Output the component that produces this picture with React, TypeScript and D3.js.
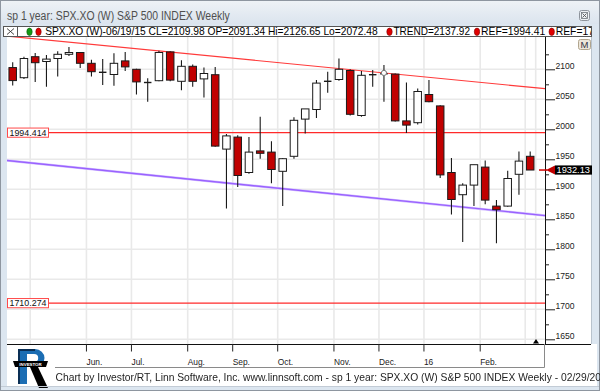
import * as d3 from 'd3';

// weekly bars, dated by the (nominal) Friday of the week
const dates = [
  '04/17/15', '04/24/15', '05/01/15', '05/08/15', '05/15/15', '05/22/15', '05/29/15',
  '06/05/15', '06/12/15', '06/19/15', '06/26/15', '07/03/15', '07/10/15', '07/17/15',
  '07/24/15', '07/31/15', '08/07/15', '08/14/15', '08/21/15', '08/28/15', '09/04/15',
  '09/11/15', '09/18/15', '09/25/15', '10/02/15', '10/09/15', '10/16/15', '10/23/15',
  '10/30/15', '11/06/15', '11/13/15', '11/20/15', '11/27/15', '12/04/15', '12/11/15',
  '12/18/15', '12/25/15', '01/01/16', '01/08/16', '01/15/16', '01/22/16', '01/29/16',
  '02/05/16', '02/12/16', '02/19/16', '02/26/16', '03/04/16',
];

const opens = [
  2102.9, 2086, 2121, 2113, 2118, 2125, 2128, 2110, 2094, 2091.34, 2114, 2100, 2076, 2081,
  2129, 2080, 2105, 2084, 2091, 1967, 1987, 1928, 1964, 1962, 1930, 1955, 2017, 2033,
  2078, 2083, 2098, 2023, 2090, 2092, 2092, 2014, 2011, 2058, 2039, 1928, 1891, 1907,
  1937, 1872, 1872, 1925, 1955,
];
const highs = [
  2111.9, 2121, 2127, 2124, 2130, 2137, 2129, 2116, 2117, 2126.65, 2129, 2101, 2085, 2131,
  2130, 2115, 2108, 2103, 2104, 1992, 1990, 1987, 2021, 1980, 1952, 2020, 2034, 2082,
  2096, 2118, 2100, 2097, 2099, 2107, 2093, 2078, 2068, 2082, 2040, 1952, 1910, 1941,
  1948, 1882, 1931, 1963, 1963,
];
const lows = [
  2073, 2084, 2079, 2071, 2088, 2122, 2102, 2088, 2074, 2072.48, 2097, 2058, 2046, 2080,
  2080, 2065, 2071, 2053, 1971, 1868, 1904, 1926, 1951, 1910, 1872, 1951, 1993, 2019,
  2061, 2081, 2023, 2021, 2071, 2046, 2013, 1994, 2008, 2045, 1919, 1858, 1812, 1872,
  1875, 1810, 1871, 1891, 1932,
];
const closes = [
  2081.2, 2118, 2111, 2117, 2125, 2128, 2110, 2096, 2095, 2109.98, 2104, 2079, 2078, 2128,
  2082, 2105, 2080, 2093, 1972, 1989, 1923, 1962, 1960, 1933, 1951, 2015, 2034, 2077,
  2080, 2100, 2025, 2090, 2091, 2092.5, 2014, 2007, 2063, 2046, 1924, 1883, 1907, 1941,
  1882, 1866, 1918, 1947, 1932.13,
];

const monthLabels: Record<string, string> = {
  '06': 'Jun.', '07': 'Jul.', '08': 'Aug.', '09': 'Sep.', '10': 'Oct.',
  '11': 'Nov.', '12': 'Dec.', '01': '16', '02': 'Feb.',
};

const yTicks = [1650, 1700, 1750, 1800, 1850, 1900, 1950, 2000, 2050, 2100];
const yMinorTicks = [1675, 1725, 1775, 1825, 1875, 1925, 1975, 2025, 2075, 2125];

const refLevels = [1994.414, 1710.274];
const trendTop = [{ i: 0, v: 2154.4 }, { i: 46, v: 2070.1 }];
const trendLow = [{ i: 0, v: 1947.0 }, { i: 46, v: 1858.8 }];
const anchorBar = 33; // handle drawn on the upper trend line

const lastPrice = 1932.13;

const ui = '"Liberation Sans", Arial, sans-serif';

export default function App() {
  const plot = { left: 7, right: 545, top: 37, bottom: 344 };

  const x = d3.scaleLinear().domain([0, dates.length - 1]).range([12.7, 530.2]);
  const y = d3.scaleLinear().domain([1650, 2100]).range([339.3, 69.3]);

  // month boundaries: first bar of every month
  const boundaries = dates
    .map((d, i) => ({ i, m: d.slice(0, 2) }))
    .filter((d, i, arr) => i > 0 && d.m !== arr[i - 1].m);

  // extend a 2-point line to the plot edges
  const lineAcross = (pts: { i: number; v: number }[]) => {
    const slope = (pts[1].v - pts[0].v) / (pts[1].i - pts[0].i);
    const at = (i: number) => pts[0].v + (i - pts[0].i) * slope;
    const i0 = x.invert(plot.left);
    const i1 = x.invert(plot.right);
    return { x1: plot.left, y1: y(at(i0)), x2: plot.right, y2: y(at(i1)), at };
  };
  const top = lineAcross(trendTop);
  const low = lineAcross(trendLow);

  const bodyW = 7.5;

  return (
    <div style={{ position: 'fixed', left: 0, top: 0 }}>
      <svg width={600} height={391} style={{ display: 'block' }}>
        <defs>
          <clipPath id="plotClip">
            <rect x={plot.left} y={plot.top} width={plot.right - plot.left} height={plot.bottom - plot.top} />
          </clipPath>
          <clipPath id="footClip">
            <rect x={0} y={340} width={600} height={51} />
          </clipPath>
          <linearGradient id="titleGrad" x1="0" y1="0" x2="0" y2="1">
            <stop offset="0" stopColor="#eef2f6" />
            <stop offset="1" stopColor="#dbe4ee" />
          </linearGradient>
        </defs>

        {/* window frame */}
        <rect x={0.5} y={0.5} width={599} height={390} fill="#dce6f0" stroke="#8e96a0" />
        <rect x={1} y={1} width={598} height={23} fill="url(#titleGrad)" />
        <text x={7} y={20} fontFamily={ui} fontSize={12.5} fill="#4f4f4f" textLength={222.7} lengthAdjust="spacingAndGlyphs">
          sp 1 year: SPX.XO (W) S&amp;P 500 INDEX Weekly
        </text>
        <g>
          <rect x={579.5} y={10.5} width={10} height={10} rx={2} fill="#eef1f4" stroke="#8d939b" />
          <rect x={581.5} y={12.5} width={6} height={6} fill="none" stroke="#6f757c" strokeWidth={0.8} />
          <path d="M582.5,13.5 L586.5,17.5 M586.5,13.5 L582.5,17.5" stroke="#555" strokeWidth={0.9} />
        </g>

        {/* legend strip */}
        <rect x={3.5} y={26.5} width={588} height={10} fill="#fff" stroke="#555" />
        <rect x={3.5} y={26.5} width={14} height={10} fill="#fff" stroke="#555" />
        <path d="M7,28.5 L14,34.5 M14,28.5 L7,34.5" stroke="#333" strokeWidth={0.9} />
        <ellipse cx={29.5} cy={31.8} rx={2.7} ry={3.7} fill="#159a15" stroke="#0b5a0b" strokeWidth={0.6} />
        <ellipse cx={38.5} cy={31.8} rx={2.7} ry={3.7} fill="#e00000" stroke="#700" strokeWidth={0.6} />
        <text x={45.2} y={35.2} fontFamily={ui} fontSize={10.5} fill="#000" textLength={332.5} lengthAdjust="spacingAndGlyphs">
          SPX.XO (W)-06/19/15 CL=2109.98 OP=2091.34 Hi=2126.65 Lo=2072.48
        </text>
        <ellipse cx={389.5} cy={31.8} rx={2.7} ry={3.7} fill="#e00000" stroke="#700" strokeWidth={0.6} />
        <text x={393.4} y={35.2} fontFamily={ui} fontSize={10.5} fill="#000" textLength={76.6} lengthAdjust="spacingAndGlyphs">
          TREND=2137.92
        </text>
        <ellipse cx={477} cy={31.8} rx={2.7} ry={3.7} fill="#e00000" stroke="#700" strokeWidth={0.6} />
        <text x={481} y={35.2} fontFamily={ui} fontSize={10.5} fill="#000" textLength={64.3} lengthAdjust="spacingAndGlyphs">
          REF=1994.41
        </text>
        <ellipse cx={551.7} cy={31.8} rx={2.7} ry={3.7} fill="#e00000" stroke="#700" strokeWidth={0.6} />
        <svg x={555} y={26} width={36} height={11} overflow="hidden">
          <text x={0.7} y={9.2} fontFamily={ui} fontSize={10.5} fill="#000" textLength={64.3} lengthAdjust="spacingAndGlyphs">
            REF=1710.27
          </text>
        </svg>

        {/* panels */}
        <rect x={plot.left} y={plot.top} width={plot.right - plot.left} height={plot.bottom - plot.top} fill="#fff" />
        <rect x={plot.right} y={plot.top} width={591 - plot.right} height={plot.bottom - plot.top} fill="#fff" />
        <rect x={plot.left} y={plot.bottom} width={597 - plot.left} height={386 - plot.bottom} fill="#fff" />
        <line x1={591.5} x2={591.5} y1={plot.top} y2={plot.bottom} stroke="#b9c3cd" />

        {/* grid */}
        <g stroke="#e9e9e9" strokeWidth={1.6}>
          {yTicks.map(t => (
            <line key={t} x1={plot.left} x2={plot.right} y1={y(t)} y2={y(t)} />
          ))}
          {boundaries.map(b => (
            <line key={b.i} x1={x(b.i) - 5} x2={x(b.i) - 5} y1={plot.top} y2={plot.bottom} />
          ))}
          <line x1={x(dates.length - 1) + 5.5} x2={x(dates.length - 1) + 5.5} y1={plot.top} y2={plot.bottom} />
        </g>

        <g clipPath="url(#plotClip)">
          {/* reference levels */}
          {refLevels.map(r => (
            <line key={r} x1={plot.left} x2={plot.right} y1={y(r)} y2={y(r)} stroke="#ff2a2a" strokeWidth={1.1} />
          ))}
          {/* trend channel */}
          <line x1={top.x1} y1={top.y1} x2={top.x2} y2={top.y2} stroke="#ff3a3a" strokeWidth={1.2} />
          <line x1={low.x1} y1={low.y1} x2={low.x2} y2={low.y2} stroke="#d6c4ff" strokeWidth={2.4} />
          <line x1={low.x1} y1={low.y1} x2={low.x2} y2={low.y2} stroke="#9a62ff" strokeWidth={1.3} />

          {/* candles */}
          {dates.map((d, i) => {
            const cx = x(i);
            const o = opens[i], c = closes[i];
            const up = c >= o;
            const yTop = y(Math.max(o, c));
            const yBot = y(Math.min(o, c));
            const h = yBot - yTop;
            return (
              <g key={d}>
                <line x1={cx} x2={cx} y1={y(highs[i])} y2={y(lows[i])} stroke="#1a1a1a" strokeWidth={1.1} />
                {h < 1.5 ? (
                  <line x1={cx - bodyW / 2} x2={cx + bodyW / 2} y1={y(c)} y2={y(c)} stroke="#1a1a1a" strokeWidth={1.4} />
                ) : (
                  <rect
                    x={cx - bodyW / 2}
                    y={yTop}
                    width={bodyW}
                    height={h}
                    fill={up ? '#fff' : '#c00000'}
                    stroke="#1a1a1a"
                    strokeWidth={1}
                  />
                )}
              </g>
            );
          })}

          <circle cx={x(anchorBar)} cy={y(top.at(anchorBar))} r={2.6} fill="#fff" stroke="#777" strokeWidth={1} />
        </g>

        {/* reference labels */}
        {refLevels.map(r => (
          <g key={r}>
            <rect x={7.5} y={y(r) - 4.6} width={41} height={9.2} fill="#fff" stroke="#ff4a4a" />
            <text x={9.5} y={y(r) + 3.3} fontFamily={ui} fontSize={9} fill="#111" textLength={37} lengthAdjust="spacingAndGlyphs">
              {d3.format('.3f')(r)}
            </text>
          </g>
        ))}

        {/* right axis */}
        <line x1={plot.right + 0.5} x2={plot.right + 0.5} y1={plot.top} y2={plot.bottom} stroke="#111" />
        {yTicks.map(t => (
          <g key={t}>
            <line x1={plot.right} x2={555} y1={y(t) + 0.5} y2={y(t) + 0.5} stroke="#222" />
            <text x={555.5} y={y(t) - 0.8} fontFamily={ui} fontSize={8.6} fill="#222">
              {t}
            </text>
          </g>
        ))}
        {yMinorTicks.map(t => (
          <line key={t} x1={plot.right} x2={549} y1={y(t) + 0.5} y2={y(t) + 0.5} stroke="#222" />
        ))}

        {/* last price marker */}
        <line x1={539} x2={547} y1={y(lastPrice)} y2={y(lastPrice)} stroke="#d00000" strokeWidth={1.5} />
        <path
          d={`M${546},${y(lastPrice)} L${555},${y(lastPrice) - 4.5} L${555},${y(lastPrice) + 4.5} Z`}
          fill="#c00000"
        />
        <rect x={555} y={y(lastPrice) - 4.6} width={37} height={9.2} fill="#000" />
        <text x={556.5} y={y(lastPrice) + 3.3} fontFamily={ui} fontSize={9.2} fill="#fff" textLength={33.5} lengthAdjust="spacingAndGlyphs">
          {lastPrice.toFixed(2)}
        </text>

        {/* M button */}
        <rect x={578.5} y={39.5} width={12} height={10} rx={2} fill="#ece6da" stroke="#b1a58e" />
        <text x={584.5} y={48} textAnchor="middle" fontFamily={ui} fontSize={9.5} fill="#334">
          M
        </text>

        {/* end-of-data marker */}
        <path d={`M${536},${339} L${539},${343.5} L${533},${343.5} Z`} fill="#000" />

        {/* x axis */}
        <line x1={plot.left} x2={591} y1={plot.bottom + 0.5} y2={plot.bottom + 0.5} stroke="#111" strokeWidth={1.2} />
        <path d={`M55,367.5 H544.5 V${plot.bottom}`} fill="none" stroke="#8a8a8a" />
        {boundaries
          .filter(b => monthLabels[b.m])
          .map(b => (
            <g key={b.i}>
              <line x1={x(b.i) - 5} x2={x(b.i) - 5} y1={plot.bottom} y2={351.5} stroke="#222" />
              <text x={x(b.i) - 5} y={364.5} fontFamily={ui} fontSize={8.4} fill="#222">
                {monthLabels[b.m]}
              </text>
            </g>
          ))}

        {/* logo */}
        <g>
          <path
            d="M18,349 H35 A9.5,9 0 0 1 35,367 H27 V384 H18 Z M27,354 H34 A4.2,4 0 0 1 34,362 H27 Z"
            fill="#1b6db3"
            fillRule="evenodd"
          />
          <path d="M18,349 V384 H20 V351 H35 V349 Z" fill="#0a2f55" />
          <polygon points="30,367 38,367 48,388 39,388" fill="#000" />
          <polygon points="13,361 48,361 46,367 15,367" fill="#000" />
          <text x={30.5} y={365.8} textAnchor="middle" fontFamily={ui} fontSize={4.4} fontWeight="bold" fill="#fff">
            INVESTOR
          </text>
        </g>

        {/* footer */}
        <g clipPath="url(#footClip)">
          <text x={55.5} y={381} fontFamily={ui} fontSize={11.5} fill="#1e1e1e" textLength={557} lengthAdjust="spacingAndGlyphs">
            Chart by Investor/RT, Linn Software, Inc. www.linnsoft.com - sp 1 year: SPX.XO (W) S&amp;P 500 INDEX Weekly - 02/29/2016
          </text>
        </g>
        <line x1={1} x2={599} y1={386.5} y2={386.5} stroke="#c3ccd6" />
      </svg>
    </div>
  );
}
